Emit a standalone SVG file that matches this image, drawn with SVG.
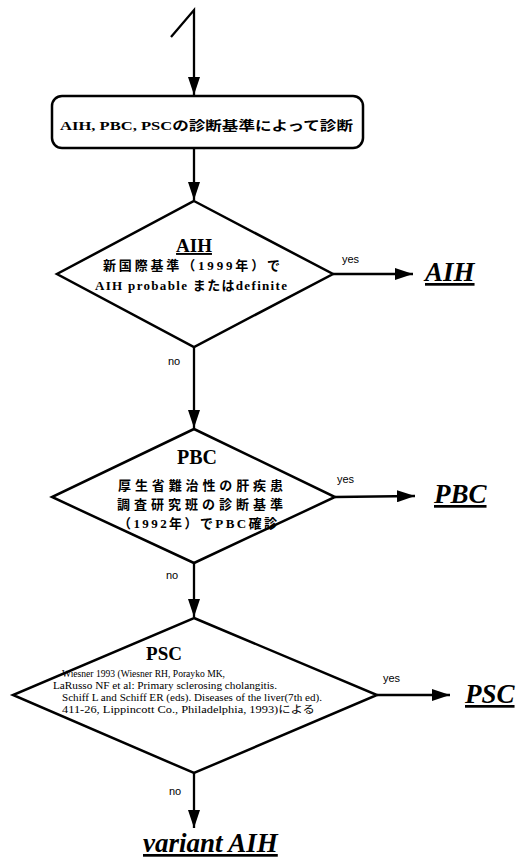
<svg xmlns="http://www.w3.org/2000/svg" width="526" height="860" viewBox="0 0 526 860">
<defs>
<style>
.ln{fill:none;stroke:#000;stroke-width:2.3}
.shape{fill:#fff;stroke:#000;stroke-width:2.5}
.t{font-family:"Liberation Serif","Noto Sans CJK JP",serif;font-weight:bold;fill:#000}
.jp{font-family:"Liberation Serif","Noto Sans CJK JP",serif;font-weight:bold;font-size:13px;fill:#000}
.ref{font-family:"Liberation Serif","Noto Sans CJK JP",serif;font-size:10px;fill:#000}
.lab{font-family:"Liberation Sans",Arial,sans-serif;font-size:11px;fill:#000}
.res{font-family:"Liberation Serif",serif;font-weight:bold;font-style:italic;font-size:27px;fill:#000;text-decoration:underline}
</style>
<marker id="ah" markerUnits="userSpaceOnUse" markerWidth="18" markerHeight="12" refX="18" refY="6" orient="auto">
<path d="M0,0 L18,6 L0,12 z" fill="#000"/>
</marker>
</defs>
<rect width="526" height="860" fill="#fff"/>
<g id="connectors">
<polyline class="ln" points="171,37 194,10 194,95" marker-end="url(#ah)"/>
<line class="ln" x1="194" y1="148" x2="194" y2="200" marker-end="url(#ah)"/>
<line class="ln" x1="333" y1="274" x2="413" y2="274" marker-end="url(#ah)"/>
<line class="ln" x1="194" y1="347" x2="194" y2="428" marker-end="url(#ah)"/>
<line class="ln" x1="335" y1="497" x2="415" y2="496" marker-end="url(#ah)"/>
<line class="ln" x1="194" y1="563" x2="194" y2="617" marker-end="url(#ah)"/>
<line class="ln" x1="377" y1="695" x2="450" y2="695" marker-end="url(#ah)"/>
<line class="ln" x1="194" y1="773" x2="194" y2="828" marker-end="url(#ah)"/>
<text class="lab" x="342" y="263">yes</text>
<text class="lab" x="168" y="365">no</text>
<text class="lab" x="337" y="483">yes</text>
<text class="lab" x="166" y="579">no</text>
<text class="lab" x="383" y="682">yes</text>
<text class="lab" x="169" y="795">no</text>
</g>
<g id="start">
<rect class="shape" x="52" y="96" width="311" height="52" rx="10" ry="10"/>
<text class="jp" x="60" y="130" textLength="293" lengthAdjust="spacingAndGlyphs">AIH, PBC, PSCの診断基準によって診断</text>
</g>
<g id="d-aih">
<polygon class="shape" points="194,201 333,274 194,347 57,274"/>
<text class="t" x="194" y="252" font-size="19" text-anchor="middle" text-decoration="underline">AIH</text>
<text class="jp" x="103" y="270" textLength="177" lengthAdjust="spacing">新国際基準（1999年）で</text>
<text class="jp" x="95" y="290" textLength="192" lengthAdjust="spacing">AIH probable またはdefinite</text>
</g>
<g id="d-pbc">
<polygon class="shape" points="194,429 335,497 194,563 52,497"/>
<text class="t" x="197" y="464" font-size="20" text-anchor="middle">PBC</text>
<text class="jp" x="118" y="490" textLength="165" lengthAdjust="spacing">厚生省難治性の肝疾患</text>
<text class="jp" x="117" y="509" textLength="166" lengthAdjust="spacing">調査研究班の診断基準</text>
<text class="jp" x="118" y="528" textLength="159" lengthAdjust="spacing">（1992年）でPBC確診</text>
</g>
<g id="d-psc">
<polygon class="shape" points="194,618 377,695 194,773 13,695"/>
<text class="t" x="164" y="660" font-size="19" text-anchor="middle">PSC</text>
<text class="ref" x="62" y="677" textLength="163" lengthAdjust="spacingAndGlyphs">Wiesner 1993 (Wiesner RH, Porayko MK,</text>
<text class="ref" x="53" y="689" textLength="224" lengthAdjust="spacingAndGlyphs">LaRusso NF et al: Primary sclerosing cholangitis.</text>
<text class="ref" x="62" y="701" textLength="260" lengthAdjust="spacingAndGlyphs">Schiff L and Schiff ER (eds). Diseases of the liver(7th ed).</text>
<text class="ref" x="62" y="713" textLength="253" lengthAdjust="spacingAndGlyphs">411-26, Lippincott Co., Philadelphia, 1993)による</text>
</g>
<g id="r-aih"><text class="res" x="425" y="281">AIH</text></g>
<g id="r-pbc"><text class="res" x="434" y="503">PBC</text></g>
<g id="r-psc"><text class="res" x="465" y="703">PSC</text></g>
<g id="r-variant"><text class="res" x="143" y="852">variant AIH</text></g>
</svg>
